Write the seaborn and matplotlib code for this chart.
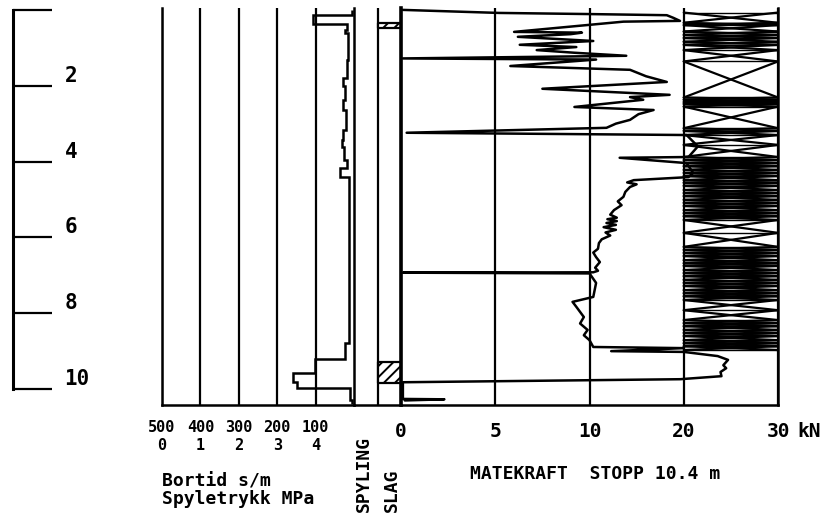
import numpy as np
import matplotlib
matplotlib.use("Agg")
import matplotlib.pyplot as plt
import seaborn as sns

sns.set_style("white")
plt.rcParams["font.family"] = ["DejaVu Sans Mono", "DejaVu Sans"]
plt.rcParams["font.weight"] = "bold"
plt.rcParams["text.color"] = "black"
plt.rcParams["xtick.color"] = "black"
plt.rcParams["ytick.color"] = "black"
plt.rcParams["hatch.linewidth"] = 1.4

# depth scale (m)
depth_ticks = [0, 2, 4, 6, 8, 10]
depth_labels = ["", "2", "4", "6", "8", "10"]

# bortid (s/m) as a step curve: layer edges in m and value per layer
bortid_edges = [0.0, 0.13, 0.37, 0.53, 0.62, 1.32, 1.80, 2.02, 2.37, 2.64, 3.17, 3.43,
                3.61, 3.96, 4.18, 4.40, 6.15, 8.79, 9.21, 9.58, 9.82, 9.97, 10.29, 10.40]
bortid_vals = [5, 107, 19, 23, 15, 19, 28, 23, 28, 21, 29, 32, 26, 19, 36, 12, 14, 23,
               101, 159, 148, 10, 5]
bortid_ticks = [500, 400, 300, 200, 100]
mpa_ticks = [0, 1, 2, 3, 4]

# slag column, hatched intervals (m)
slag_top = [0.34, 9.29]
slag_bot = [0.47, 9.84]

# matekraft (kN) against depth (m)
mate_depth = [0.00, 0.08, 0.11, 0.14, 0.21, 0.29, 0.31, 0.58, 0.60, 0.64, 0.71, 0.82,
              0.92, 0.98, 1.06, 1.13, 1.21, 1.28, 1.31, 1.48, 1.58, 1.75, 1.90, 2.08,
              2.24, 2.30, 2.37, 2.56, 2.64, 2.75, 2.90, 3.00, 3.11, 3.24, 3.30, 3.60,
              3.88, 3.90, 4.04, 4.30, 4.41, 4.49, 4.55, 4.60, 4.67, 4.80, 4.93, 5.05,
              5.15, 5.28, 5.40, 5.48, 5.52, 5.57, 5.62, 5.67, 5.73, 5.80, 5.87, 5.95,
              6.05, 6.15, 6.30, 6.40, 6.52, 6.65, 6.80, 6.88, 6.92, 6.93, 6.95, 7.20,
              7.57, 7.70, 7.83, 8.10, 8.27, 8.44, 8.58, 8.71, 8.89, 8.92, 9.00, 9.02,
              9.13, 9.23, 9.37, 9.45, 9.55, 9.66, 9.74, 9.82, 10.26, 10.27, 10.30]
mate_kn = [0.1, 5.2, 10.0, 18.2, 18.9, 19.6, 13.6, 6.0, 9.6, 9.0, 6.2, 10.4,
           6.3, 9.3, 7.2, 9.2, 13.9, 0.1, 10.7, 5.8, 14.3, 16.0, 18.2, 7.5,
           18.5, 14.3, 15.7, 9.2, 16.8, 15.2, 14.3, 12.8, 11.8, 0.3, 20.3, 21.5,
           20.5, 13.2, 20.3, 21.0, 20.5, 14.7, 14.0, 15.0, 14.3, 13.8, 13.6, 13.0,
           13.4, 12.6, 12.2, 12.9, 11.9, 12.9, 11.8, 12.8, 11.5, 12.8, 11.7, 12.2,
           11.3, 11.0, 10.9, 10.4, 10.7, 11.1, 10.6, 10.9, 10.4, 0.1, 10.0, 10.7,
           10.4, 9.1, 9.3, 9.7, 9.5, 9.9, 9.7, 10.0, 10.4, 20.0, 12.3, 20.0,
           23.6, 24.7, 24.2, 24.5, 23.9, 24.0, 19.6, 0.1, 0.1, 2.3, 0.2]
mate_ticks = [0, 5, 10, 20, 30]
mate_labels = ["0", "5", "10", "20", "30"]

# 20-30 kN column: boundaries (m) of the crossed blocks
cross_edges = [0.07, 0.34, 0.40, 0.57, 0.66, 0.74, 0.84, 0.92, 1.06, 1.36, 2.31, 2.37,
               2.43, 2.48, 2.55, 3.12, 3.19, 3.30, 3.56, 3.88, 3.96, 4.04, 4.12, 4.22,
               4.30, 4.38, 4.49, 4.56, 4.64, 4.75, 4.83, 4.91, 5.01, 5.09, 5.17, 5.28,
               5.36, 5.44, 5.54, 5.88, 6.25, 6.33, 6.41, 6.49, 6.60, 6.68, 6.75, 6.86,
               6.94, 7.02, 7.12, 7.20, 7.28, 7.39, 7.47, 7.55, 7.65, 7.92, 8.18, 8.26,
               8.34, 8.44, 8.52, 8.60, 8.71, 8.79, 8.87, 8.97]

W, H = 830, 525
YLIM = (10.42, -0.05)


def box(x0, x1):
    return [x0 / W, (H - 405) / H, (x1 - x0) / W, 397 / H]


def kn_fwd(v):
    v = np.asarray(v, dtype=float)
    return np.where(v <= 10, v, 10 + (v - 10) / 2)


def kn_inv(u):
    u = np.asarray(u, dtype=float)
    return np.where(u <= 10, u, 10 + (u - 10) * 2)


fig = plt.figure(figsize=(8.3, 5.25), dpi=100)

# depth scale on the left
ax_d = fig.add_axes(box(13, 52))
ax_d.set_facecolor("none")
ax_d.set_ylim(*YLIM)
for s in ["top", "right", "bottom"]:
    ax_d.spines[s].set_visible(False)
ax_d.spines["left"].set_bounds(0, 10)
ax_d.spines["left"].set_linewidth(2.2)
ax_d.spines["left"].set_color("black")
ax_d.set_xticks([])
ax_d.yaxis.tick_right()
ax_d.set_yticks(depth_ticks, depth_labels)
ax_d.tick_params(axis="y", direction="in", length=28, width=1.6, pad=9,
                 labelsize=15, colors="black")
for t in ax_d.get_yticklabels():
    t.set_va("bottom")

# bortid / spyletrykk panel
ax_b = fig.add_axes(box(162, 354))
ax_b.set_facecolor("none")
ax_b.set_ylim(*YLIM)
ax_b.set_xlim(500, 0)
ax_b.stairs(bortid_vals, bortid_edges, orientation="horizontal", baseline=None,
            color="black", lw=1.8)
ax_b.set_xticks(bortid_ticks, [str(v) for v in bortid_ticks])
ax_b.set_yticks([])
ax_b.grid(axis="x", color="black", lw=1.6)
ax_b.tick_params(axis="x", length=0, pad=11, labelsize=11)
ax_b.spines["top"].set_visible(False)
for s in ["left", "right", "bottom"]:
    ax_b.spines[s].set_color("black")
    ax_b.spines[s].set_linewidth(1.8)
sec = ax_b.secondary_xaxis("bottom", functions=(lambda s: (500 - s) / 100,
                                                lambda p: 500 - 100 * p))
sec.set_xticks(mpa_ticks, [str(v) for v in mpa_ticks])
sec.tick_params(length=0, pad=24, labelsize=11)
sec.spines["bottom"].set_visible(False)

# spyling / slag columns
ax_s = fig.add_axes(box(354, 401))
ax_s.set_facecolor("none")
ax_s.set_ylim(*YLIM)
ax_s.set_xlim(0, 2)
ax_s.set_xticks([1], [""])
ax_s.set_yticks([])
ax_s.tick_params(length=0)
ax_s.grid(axis="x", color="black", lw=1.6)
for d0, d1 in zip(slag_top, slag_bot):
    ax_s.fill_betweenx([d0, d1], 1, 2, facecolor="white", edgecolor="black",
                       hatch="///", lw=1.6)
for s in ["top", "left", "right"]:
    ax_s.spines[s].set_visible(False)
ax_s.spines["bottom"].set_color("black")
ax_s.spines["bottom"].set_linewidth(1.8)

# matekraft panel
ax_m = fig.add_axes(box(401, 778))
ax_m.set_facecolor("none")
ax_m.set_xscale("function", functions=(kn_fwd, kn_inv))
for d0, d1 in zip(cross_edges[:-1], cross_edges[1:]):
    ax_m.plot([20, 30], [d0, d1], color="black", lw=1.6)
    ax_m.plot([20, 30], [d1, d0], color="black", lw=1.6)
    ax_m.plot([20, 30], [d0, d0], color="black", lw=1.0)
ax_m.plot([20, 30], [cross_edges[-1], cross_edges[-1]], color="black", lw=1.0)
sns.lineplot(x=mate_kn, y=mate_depth, sort=False, estimator=None, color="black",
             lw=1.8, ax=ax_m)
ax_m.set_xlim(0, 30)
ax_m.set_ylim(*YLIM)
ax_m.set_xticks(mate_ticks, mate_labels)
ax_m.set_yticks([])
ax_m.grid(axis="x", color="black", lw=1.6)
ax_m.tick_params(axis="x", length=0, pad=12, labelsize=14)
ax_m.spines["top"].set_visible(False)
ax_m.spines["left"].set_linewidth(2.6)
ax_m.spines["right"].set_linewidth(1.8)
ax_m.spines["bottom"].set_linewidth(1.8)
for s in ["left", "right", "bottom"]:
    ax_m.spines[s].set_color("black")
ax_m.annotate("kN", xy=(1, 0), xycoords="axes fraction", xytext=(14, -12),
              textcoords="offset points", ha="left", va="top", fontsize=14)

# captions
fig.text(162 / W, 1 - 472 / H, "Bortid s/m\nSpyletrykk MPa", ha="left", va="top",
         fontsize=13, linespacing=1.0)
fig.text(470 / W, 1 - 474 / H, "MATEKRAFT  STOPP 10.4 m", ha="left", va="center",
         fontsize=13)
fig.text(364 / W, 1 - 512 / H, "SPYLING", rotation=90, ha="center", va="bottom",
         fontsize=13)
fig.text(392 / W, 1 - 512 / H, "SLAG", rotation=90, ha="center", va="bottom",
         fontsize=13)

fig.savefig("out.png", dpi=100)
